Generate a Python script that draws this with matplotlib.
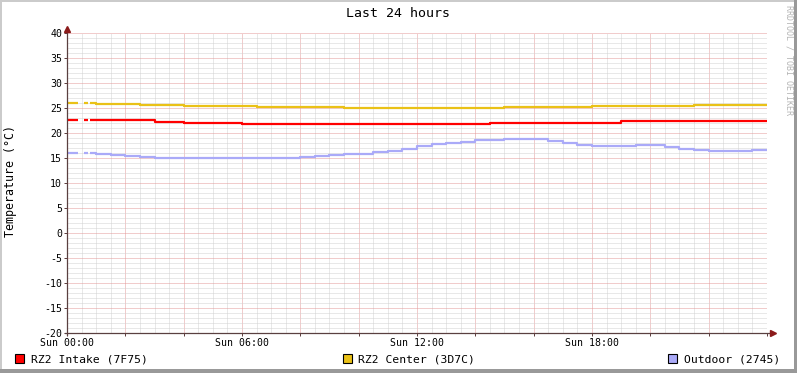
import numpy as np
import matplotlib
matplotlib.use("Agg")
import matplotlib.pyplot as plt
from matplotlib.patches import Rectangle

# hours since Sun 00:00 (a few short gaps at the start)
hours = [0, 0.38, 0.58, 0.72, 0.8] + [1.0 + 0.5 * i for i in range(47)]
nan = np.nan

intake = [22.7, nan, 22.7, nan, 22.7,
          22.7, 22.7, 22.7, 22.7, 22.3, 22.3, 22.1, 22.1, 22.1, 22.1,
          21.9, 21.9, 21.9, 21.9, 21.9, 21.8, 21.8, 21.8, 21.8, 21.8,
          21.8, 21.8, 21.8, 21.8, 21.9, 21.9, 21.9, 22.1, 22.1, 22.1,
          22.1, 22.1, 22.1, 22.1, 22.1, 22.1, 22.4, 22.4, 22.4, 22.4,
          22.4, 22.4, 22.4, 22.4, 22.4, 22.4, 22.4]
center = [26.1, nan, 26.1, nan, 26.0,
          25.9, 25.9, 25.8, 25.7, 25.7, 25.6, 25.5, 25.5, 25.5, 25.4,
          25.4, 25.3, 25.3, 25.3, 25.2, 25.2, 25.2, 25.1, 25.1, 25.1,
          25.1, 25.1, 25.1, 25.1, 25.1, 25.1, 25.1, 25.1, 25.2, 25.2,
          25.2, 25.3, 25.3, 25.3, 25.4, 25.4, 25.4, 25.5, 25.5, 25.5,
          25.5, 25.6, 25.6, 25.6, 25.7, 25.7, 25.7]
outdoor = [16.1, nan, 16.0, nan, 16.0,
           15.8, 15.6, 15.4, 15.2, 15.1, 15.1, 15.1, 15.0, 15.1, 15.1,
           15.1, 15.1, 15.1, 15.1, 15.2, 15.4, 15.6, 15.8, 15.9, 16.2,
           16.5, 16.9, 17.5, 17.9, 18.1, 18.3, 18.6, 18.7, 18.8, 18.9,
           18.9, 18.5, 18.0, 17.6, 17.4, 17.4, 17.5, 17.7, 17.6, 17.2,
           16.8, 16.6, 16.5, 16.5, 16.5, 16.6, 16.7]

series_names = ["RZ2 Intake (7F75)", "RZ2 Center (3D7C)", "Outdoor (2745)"]
series_colors = ["#FF0000", "#EAC117", "#AAAAF8"]

xtick_pos = [0, 2, 4, 6, 8, 10, 12, 14, 16, 18, 20, 22, 24]
xtick_labels = ["Sun 00:00", "", "", "Sun 06:00", "", "", "Sun 12:00",
                "", "", "Sun 18:00", "", "", ""]

W, H = 797, 373
plt.rcParams["font.family"] = ["DejaVu Sans Mono", "DejaVu Sans"]
plt.rcParams["axes.unicode_minus"] = False

fig = plt.figure(figsize=(W / 100, H / 100), dpi=100)
fig.patch.set_facecolor("white")

def fx(x):
    return x / W

def fy(y):
    return 1 - y / H

# frame like rrdtool's shading
fig.add_artist(Rectangle((0, fy(2)), 1, 2 / H, transform=fig.transFigure, color="#CBCBCB", lw=0))
fig.add_artist(Rectangle((0, 0), 2 / W, 1, transform=fig.transFigure, color="#CBCBCB", lw=0))
fig.add_artist(Rectangle((fx(794), 0), 3 / W, 1, transform=fig.transFigure, color="#999999", lw=0))
fig.add_artist(Rectangle((0, 0), 1, 4 / H, transform=fig.transFigure, color="#999999", lw=0))

ax = fig.add_axes([fx(67), fy(333), (767 - 67) / W, 300 / H])
ax.set_xlim(0, 24)
ax.set_ylim(-20, 40)
for s in ax.spines.values():
    s.set_visible(False)

ax.set_xticks(xtick_pos)
ax.set_xticklabels(xtick_labels)
ax.set_xticks(np.arange(0, 24.01, 0.5), minor=True)
ax.set_yticks(np.arange(-20, 41, 5))
ax.set_yticks(np.arange(-20, 41, 1), minor=True)

ax.grid(which="minor", color="#D2D2D2", linestyle=(0, (1, 1)), linewidth=0.72)
ax.grid(which="major", color="#E49A9A", linestyle=(0, (1, 1)), linewidth=0.72)
ax.set_axisbelow(True)

ax.tick_params(which="major", length=2, width=0.72, color="#604040",
               labelsize=7.1)
ax.tick_params(which="minor", length=0)
ax.tick_params(axis="x", pad=1.5)
ax.tick_params(axis="y", pad=1.5)

for vals, col in zip([intake, center, outdoor], series_colors):
    ax.plot(hours, vals, color=col, lw=1.6, drawstyle="steps-post",
            solid_capstyle="butt", zorder=3)

# axis lines with arrows
axis_col = "#5A4040"
ax.plot([-0.07, 24.2], [-20, -20], color=axis_col, lw=0.9, clip_on=False, zorder=4)
ax.plot([0, 0], [-20.3, 40.8], color=axis_col, lw=0.9, clip_on=False, zorder=4)
ax.plot([24.2], [-20], marker=">", color="#8B1A1A", ms=4, clip_on=False, zorder=5)
ax.plot([0], [40.9], marker="^", color="#8B1A1A", ms=4, clip_on=False, zorder=5)

fig.text(fx(397.5), fy(13.5), "Last 24 hours", ha="center", va="center", fontsize=9.5)
fig.text(fx(11), fy(181), "Temperature (°C)", ha="center", va="center",
         rotation=90, fontsize=8.4)
fig.text(fx(789), fy(60), "RRDTOOL / TOBI OETIKER", ha="center", va="center",
         rotation=270, fontsize=6, color="#B4B4B4")

# legend
legend_x = [15, 343, 668]
for lx, name, col in zip(legend_x, series_names, series_colors):
    fig.add_artist(Rectangle((fx(lx), fy(363)), 9 / W, 9 / H,
                             transform=fig.transFigure, facecolor=col,
                             edgecolor="black", lw=0.8))
    fig.text(fx(lx + 15.5), fy(359), name, ha="left", va="center", fontsize=8.2)

fig.savefig("out.png", dpi=100)
